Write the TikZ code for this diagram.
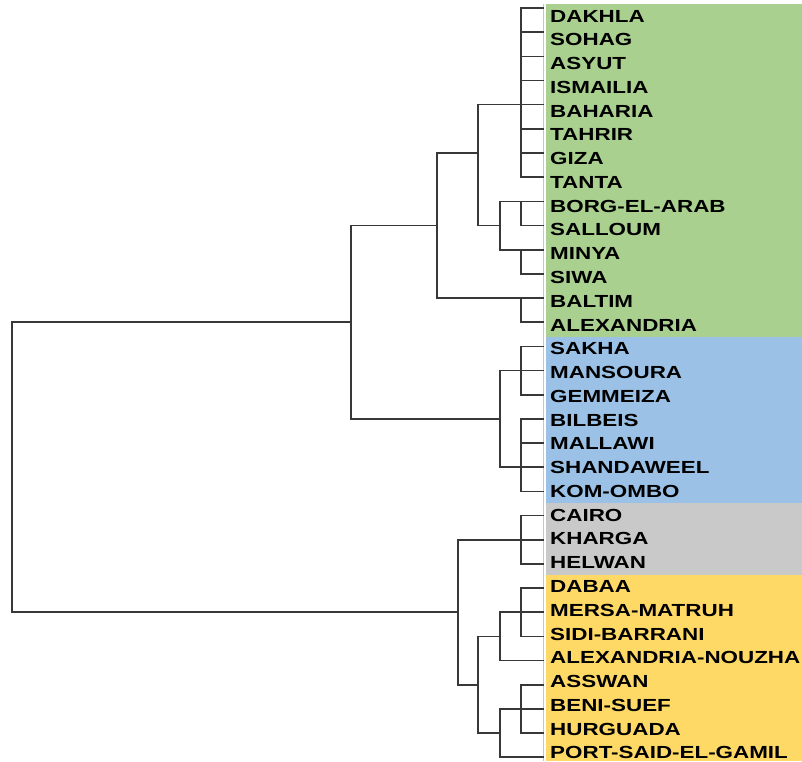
\documentclass[tikz,border=0pt]{standalone}
\usepackage{fontspec}
\usepackage{graphicx}
\setmainfont{Liberation Sans}
\definecolor{bgreen}{HTML}{A9D08E}
\definecolor{bblue}{HTML}{9BC2E6}
\definecolor{bgray}{HTML}{C9C9C9}
\definecolor{byellow}{HTML}{FFD966}
\newcommand\Ys[1]{(8+24.17*(#1))}
\newcommand\Yt[1]{(16+23.77*(#1))}
\tikzset{
  tree/.style={line width=1.6pt, draw=black!78, line cap=rect, line join=miter},
  lbl/.style={anchor=west, inner sep=0pt, font=\fontsize{17.5}{17.5}\selectfont\bfseries, text=black},
}
\begin{document}
\begin{tikzpicture}[x=1pt,y=-1pt]
\useasboundingbox (0,0) rectangle (802,761);
% colour bands
\fill[bgreen]  (546,{\Yt{-0.5}}) rectangle (802,{\Yt{13.5}});
\fill[bblue]   (546,{\Yt{13.5}}) rectangle (802,{\Yt{20.5}});
\fill[bgray]   (546,{\Yt{20.5}}) rectangle (802,{\Yt{23.5}});
\fill[byellow] (546,{\Yt{23.5}}) rectangle (802,761);
\draw[gray!45, line width=0.8pt] (543,{\Yt{-0.5}}) -- (543,761);
% leaves
\foreach \name [count=\i from 0] in {DAKHLA,SOHAG,ASYUT,ISMAILIA,BAHARIA,TAHRIR,GIZA,TANTA,BORG-EL-ARAB,SALLOUM,MINYA,SIWA,BALTIM,ALEXANDRIA,SAKHA,MANSOURA,GEMMEIZA,BILBEIS,MALLAWI,SHANDAWEEL,KOM-OMBO,CAIRO,KHARGA,HELWAN,DABAA,MERSA-MATRUH,SIDI-BARRANI,ALEXANDRIA-NOUZHA,ASSWAN,BENI-SUEF,HURGUADA,PORT-SAID-EL-GAMIL}{
  \node[lbl] (l\i) at (550,{\Yt{\i}}) {\scalebox{1.28}[1]{\name}};
  \coordinate (s\i) at (543,{\Ys{\i}});
  \coordinate (p\i) at (521,{\Ys{\i}});
}
% leaf stubs
\foreach \i in {0,...,26,28,29,30}{ \draw[tree] (p\i) -- (s\i); }
% first-level verticals
\draw[tree] (p0) -- (p7);
\draw[tree] (p8) -- (p9);
\draw[tree] (p10) -- (p11);
\draw[tree] (p12) -- (p13);
\draw[tree] (p14) -- (p16);
\draw[tree] (p17) -- (p20);
\draw[tree] (p21) -- (p23);
\draw[tree] (p24) -- (p26);
\draw[tree] (p28) -- (p30);
% junction coordinates
\coordinate (e4) at (478,{\Ys{4}});
\coordinate (e6) at (478,{\Ys{6}});
\coordinate (e9) at (478,{\Ys{9}});
\coordinate (d8) at (500,{\Ys{8}});
\coordinate (d9) at (500,{\Ys{9}});
\coordinate (d10) at (500,{\Ys{10}});
\coordinate (g6) at (437,{\Ys{6}});
\coordinate (g9) at (437,{\Ys{9}});
\coordinate (g12) at (437,{\Ys{12}});
\coordinate (j15) at (500,{\Ys{15}});
\coordinate (j17) at (500,{\Ys{17}});
\coordinate (j19) at (500,{\Ys{19}});
\coordinate (k9) at (351,{\Ys{9}});
\coordinate (k13) at (351,{\Ys{13}});
\coordinate (k17) at (351,{\Ys{17}});
\coordinate (r13) at (12,{\Ys{13}});
\coordinate (r25) at (12,{\Ys{25}});
\coordinate (q22) at (458,{\Ys{22}});
\coordinate (q25) at (458,{\Ys{25}});
\coordinate (q28) at (458,{\Ys{28}});
\coordinate (t26) at (478,{\Ys{26}});
\coordinate (t28) at (478,{\Ys{28}});
\coordinate (t30) at (478,{\Ys{30}});
\coordinate (n25) at (500,{\Ys{25}});
\coordinate (n26) at (500,{\Ys{26}});
\coordinate (n27) at (500,{\Ys{27}});
\coordinate (m29) at (500,{\Ys{29}});
\coordinate (m30) at (500,{\Ys{30}});
\coordinate (m31) at (500,{\Ys{31}});
% green cluster
\draw[tree] (p4) -- (e4) -- (e9) -- (d9);
\draw[tree] (p8) -- (d8) -- (d10) -- (p10);
\draw[tree] (e6) -- (g6) -- (g12) -- (p12);
% blue cluster
\draw[tree] (p15) -- (j15) -- (j19) -- (p19);
% green + blue
\draw[tree] (g9) -- (k9) -- (k17) -- (j17);
% root
\draw[tree] (k13) -- (r13) -- (r25) -- (q25);
% gray + yellow cluster
\draw[tree] (p22) -- (q22) -- (q28) -- (t28);
\draw[tree] (n26) -- (t26) -- (t30) -- (m30);
\draw[tree] (p25) -- (n25) -- (n27) -- (s27);
\draw[tree] (p29) -- (m29) -- (m31) -- (s31);
\end{tikzpicture}
\end{document}
